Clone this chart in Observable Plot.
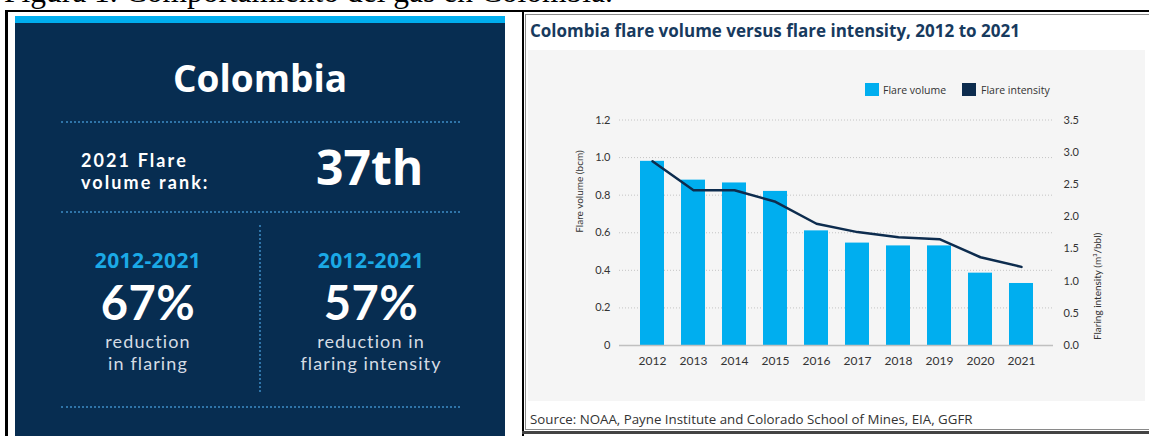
<!DOCTYPE html>
<html><head><meta charset="utf-8">
<script src="https://cdn.jsdelivr.net/npm/d3@7"></script>
<script src="https://cdn.jsdelivr.net/npm/@observablehq/plot@0.6"></script>
<style>
html,body{margin:0;padding:0;background:#fff;}
#page{position:relative;width:1149px;height:436px;overflow:hidden;background:#fff;font-family:"Open Sans",Lato,sans-serif;}
.abs{position:absolute;white-space:nowrap;}
.dot{position:absolute;border-top:2px dotted #2f74a8;height:0;}
.c{width:200px;text-align:center;}
.sub{font-family:Lato,sans-serif;color:#d5dce4;font-size:18px;letter-spacing:1.1px;line-height:20px;}
.rank{font-family:Lato,sans-serif;color:#fff;font-size:18px;font-weight:700;letter-spacing:2.1px;line-height:20px;}
</style></head>
<body>
<div id="page">
  <div class="abs" style="left:4px;top:-24px;font-family:'Liberation Serif','Times New Roman',serif;font-size:31.5px;line-height:31.5px;color:#000;">Figura 1. Comportamiento del gas en Colombia.</div>
  <!-- table borders -->
  <div class="abs" style="left:5px;top:10px;width:1144px;height:2px;background:#000;"></div>
  <div class="abs" style="left:5px;top:10px;width:3px;height:426px;background:#000;"></div>
  <div class="abs" style="left:522px;top:10px;width:2px;height:426px;background:#000;"></div>
  <div class="abs" style="left:522px;top:431px;width:627px;height:3px;background:#444;"></div>
  <!-- left infographic -->
  <div class="abs" style="left:15px;top:16px;width:490px;height:430px;background:#072d51;"></div>
  <div class="abs" style="left:15px;top:16px;width:490px;height:7px;background:#00aeef;"></div>
  <div class="abs" style="left:15px;top:56px;width:490px;text-align:center;color:#fff;font-size:37px;font-weight:700;line-height:44px;">Colombia</div>
  <div class="dot" style="left:61px;top:121px;width:399px;"></div>
  <div class="abs rank" style="left:81px;top:150px;">2021 Flare</div>
  <div class="abs rank" style="left:81px;top:172px;">volume rank:</div>
  <div class="abs" style="left:316px;top:136px;color:#fff;font-size:48px;font-weight:700;line-height:62px;">37th</div>
  <div class="dot" style="left:61px;top:211px;width:399px;"></div>
  <div class="abs" style="left:259px;top:225px;width:0;height:167px;border-left:2px dotted #2f74a8;"></div>
  <div class="abs c" style="left:48px;top:246px;color:#1ba9e6;font-size:21px;font-weight:700;letter-spacing:0.4px;line-height:28px;">2012-2021</div>
  <div class="abs c" style="left:271px;top:246px;color:#1ba9e6;font-size:21px;font-weight:700;letter-spacing:0.4px;line-height:28px;">2012-2021</div>
  <div class="abs c" style="left:48px;top:275px;color:#fff;font-family:Lato,sans-serif;font-size:47px;font-weight:700;letter-spacing:0.5px;line-height:54px;">67%</div>
  <div class="abs c" style="left:271px;top:275px;color:#fff;font-family:Lato,sans-serif;font-size:47px;font-weight:700;letter-spacing:0.5px;line-height:54px;">57%</div>
  <div class="abs c sub" style="left:48px;top:330.5px;">reduction</div>
  <div class="abs c sub" style="left:48px;top:352.5px;">in flaring</div>
  <div class="abs c sub" style="left:271px;top:330.5px;">reduction in</div>
  <div class="abs c sub" style="left:271px;top:352.5px;">flaring intensity</div>
  <div class="dot" style="left:61px;top:406px;width:399px;"></div>
  <!-- right chart frame -->
  <div class="abs" style="left:525px;top:14px;width:640px;height:416px;border:1px solid #8a8a8a;box-sizing:border-box;"></div>
  <div class="abs" style="left:530px;top:20px;color:#173a5e;font-size:17px;font-weight:700;line-height:22px;">Colombia flare volume versus flare intensity, 2012 to 2021</div>
  <div id="chart" class="abs" style="left:528px;top:50px;"></div>
  <div class="abs" style="left:865px;top:83px;width:14px;height:13px;background:#00aeef;"></div>
  <div class="abs" style="left:883px;top:82px;font-size:10.5px;line-height:16px;color:#333;">Flare volume</div>
  <div class="abs" style="left:962px;top:83px;width:14px;height:13px;background:#0d2c4e;"></div>
  <div class="abs" style="left:981px;top:82px;font-size:10.5px;line-height:16px;color:#333;">Flare intensity</div>
  <div class="abs" style="left:530px;top:409px;font-size:13.3px;line-height:20px;color:#333;">Source: NOAA, Payne Institute and Colorado School of Mines, EIA, GGFR</div>
</div>
<script>
const years = ["2012","2013","2014","2015","2016","2017","2018","2019","2020","2021"];
const flareVolume = [0.98, 0.88, 0.865, 0.82, 0.61, 0.545, 0.53, 0.53, 0.385, 0.33];
const flareIntensity = [2.86, 2.41, 2.41, 2.23, 1.89, 1.76, 1.68, 1.65, 1.37, 1.22];
const volumeTicks = [0, 0.2, 0.4, 0.6, 0.8, 1.0, 1.2];
const intensityTicks = [0, 0.5, 1.0, 1.5, 2.0, 2.5, 3.0, 3.5];
const volumeMax = 1.2, intensityMax = 3.5;

const k = volumeMax / intensityMax;
const data = years.map((y, i) => ({year: y, volume: flareVolume[i], intensity: flareIntensity[i]}));

const chart = Plot.plot({
  width: 617, height: 351,
  marginLeft: 91, marginRight: 92, marginTop: 69.5, marginBottom: 56,
  style: {background: "#f5f5f5", fontFamily: "Lato, sans-serif", fontSize: "11px", color: "#333", overflow: "visible"},
  x: {type: "band", domain: years, paddingInner: 0.42, paddingOuter: 0.43, label: null},
  y: {domain: [0, volumeMax], label: null},
  marks: [
    Plot.gridY(volumeTicks, {stroke: "#c4c4c4", strokeOpacity: 1, strokeDasharray: "1,2"}),
    Plot.barY(data, {x: "year", y: "volume", fill: "#00aeef"}),
    Plot.ruleY([0], {stroke: "#c0c0c0", strokeWidth: 1.5}),
    Plot.lineY(data, {x: "year", y: d => d.intensity * k, stroke: "#0d2c4e", strokeWidth: 2.5}),
    Plot.axisX({tickSize: 0, tickPadding: 11, fontSize: 12, label: null}),
    Plot.axisY(volumeTicks, {anchor: "left", tickSize: 0, tickPadding: 9, label: null,
      tickFormat: d => d === 0 ? "0" : d.toFixed(1)}),
    Plot.axisY(intensityTicks.map(t => t * k), {anchor: "right", tickSize: 0, tickPadding: 10, label: null,
      tickFormat: d => (d / k).toFixed(1)}),
    Plot.text(["Flare volume (bcm)"], {frameAnchor: "left", dx: -40, rotate: -90, fontSize: 10, fill: "#333"}),
    Plot.text(["Flaring intensity (m³/bbl)"], {frameAnchor: "right", dx: 44, rotate: -90, fontSize: 10, fill: "#333"})
  ]
});
document.getElementById("chart").appendChild(chart);
</script>
</body></html>
